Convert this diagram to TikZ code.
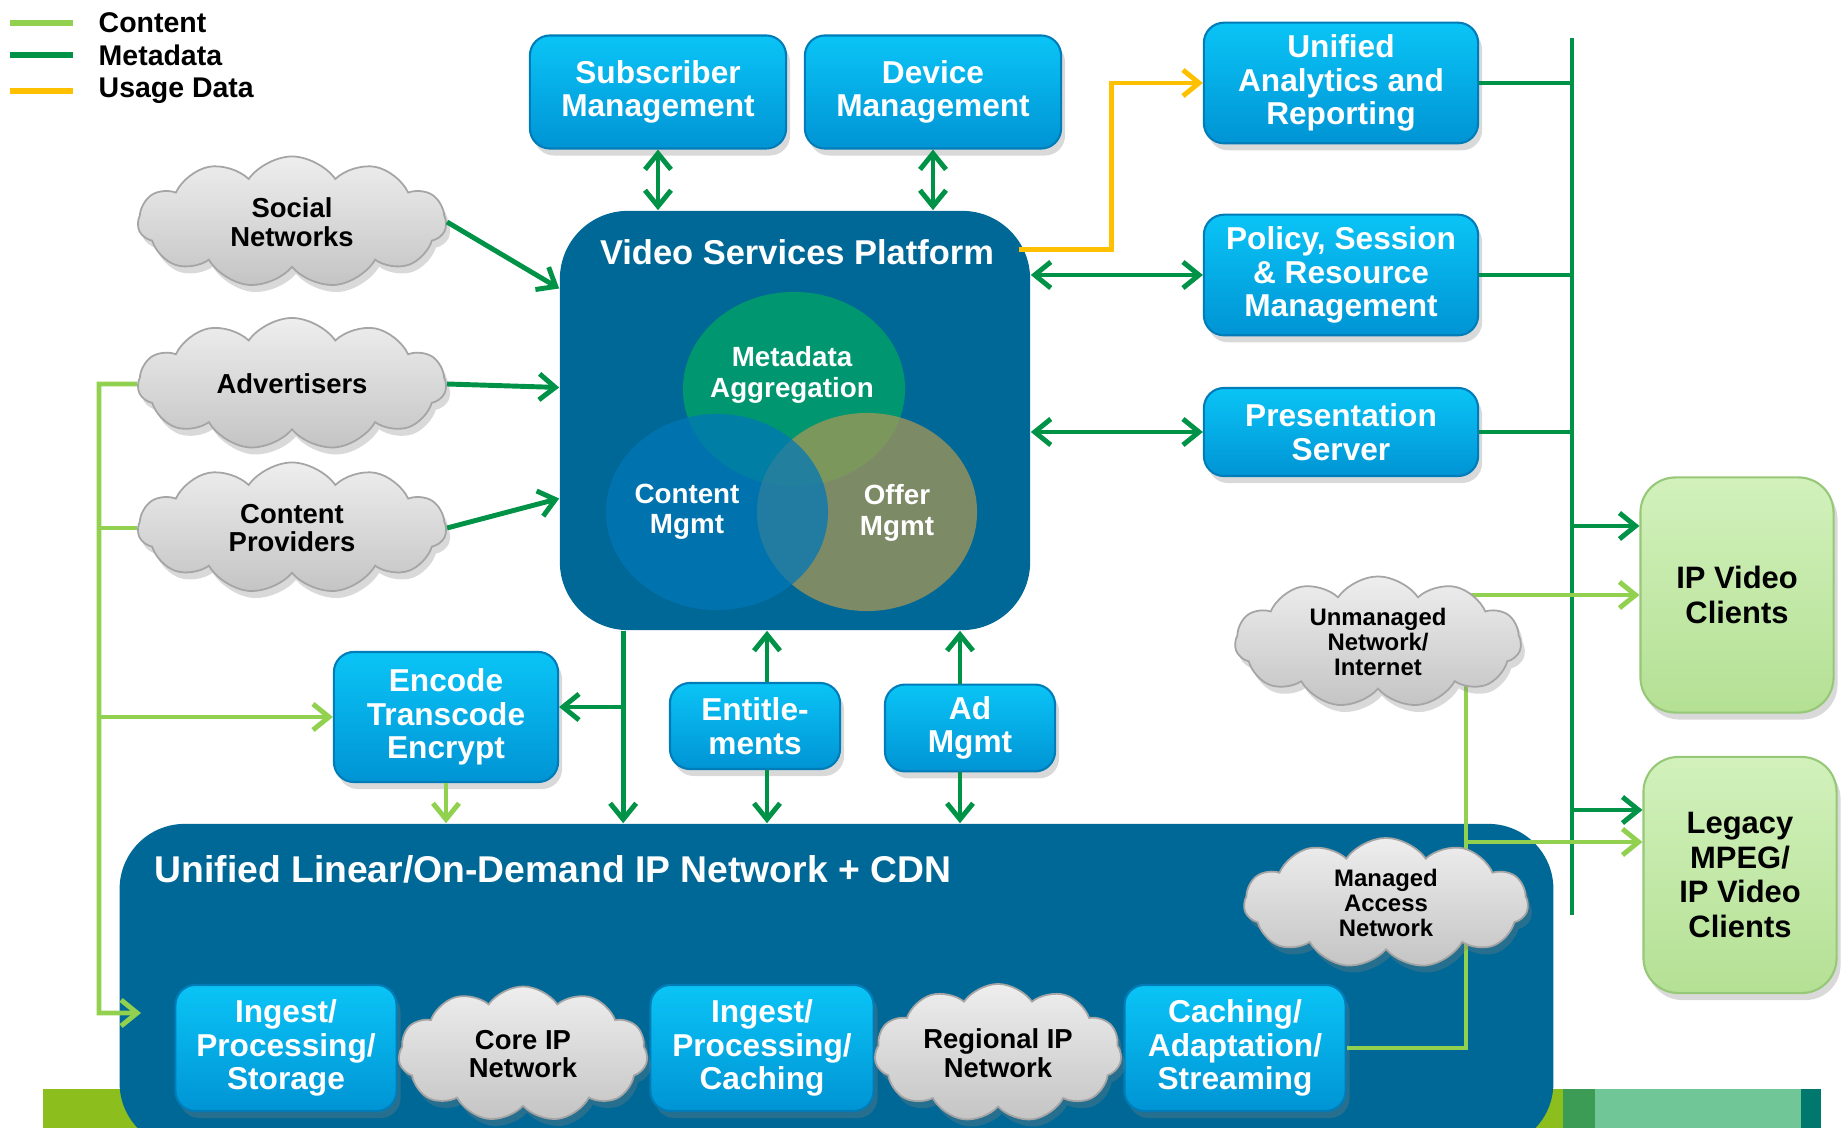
\documentclass[tikz,border=0pt]{standalone}
\usepackage{fontspec}
\setmainfont{Liberation Sans}
\usetikzlibrary{shapes.symbols,arrows.meta,calc,shadows}
\definecolor{contgreen}{RGB}{146,208,80}
\definecolor{metagreen}{RGB}{0,146,70}
\definecolor{usageyel}{RGB}{255,192,0}
\definecolor{vspblue}{RGB}{0,104,150}
\definecolor{boxtop}{RGB}{10,196,246}
\definecolor{boxbot}{RGB}{0,148,212}
\definecolor{boxline}{RGB}{0,125,185}
\definecolor{cloudtop}{RGB}{238,238,238}
\definecolor{cloudbot}{RGB}{196,196,196}
\definecolor{cloudline}{RGB}{165,165,165}
\definecolor{clienttop}{RGB}{210,241,188}
\definecolor{clientbot}{RGB}{180,224,148}
\definecolor{clientline}{RGB}{150,200,120}
\definecolor{metaoval}{RGB}{0,150,112}
\definecolor{contoval}{RGB}{0,118,183}
\definecolor{offeroval}{RGB}{172,152,84}
\definecolor{barlime}{RGB}{140,190,30}
\definecolor{bardark}{RGB}{60,155,85}
\definecolor{barmint}{RGB}{112,198,150}
\definecolor{barteal}{RGB}{0,120,110}

\begin{document}
\begin{tikzpicture}[x=0.01cm, y=-0.01cm,
    >={Straight Barb[length=1.6mm,width=2.6mm]},
    box/.style={draw=boxline, line width=0.6pt, rounded corners=2mm, top color=boxtop, bottom color=boxbot,
        text=white, align=center, font=\bfseries\fontsize{9}{9.6}\selectfont,
        drop shadow={shadow xshift=0.4mm, shadow yshift=-0.7mm, opacity=0.3}},
    cloudy/.style={cloud, cloud puffs=11, cloud puff arc=110, cloud ignores aspect, draw=cloudline, line width=0.5pt,
        top color=cloudtop, bottom color=cloudbot, inner sep=0pt, align=center,
        font=\bfseries\fontsize{7.8}{8.2}\selectfont,
        drop shadow={shadow xshift=0.4mm, shadow yshift=-0.7mm, opacity=0.3}},
    smallcloud/.style={cloudy, font=\bfseries\fontsize{6.8}{7.2}\selectfont},
    client/.style={draw=clientline, line width=0.6pt, rounded corners=3.5mm, top color=clienttop, bottom color=clientbot,
        align=center, font=\bfseries\fontsize{8.8}{9.8}\selectfont, minimum width=1.93cm,
        drop shadow={shadow xshift=0.4mm, shadow yshift=-0.7mm, opacity=0.3}},
    panel/.style={fill=vspblue, rounded corners=6.5mm},
    title/.style={text=white, font=\bfseries\fontsize{9.8}{11}\selectfont},
    venn/.style={text=white, align=center, font=\bfseries\fontsize{7.9}{8.6}\selectfont},
    lbl/.style={anchor=west, inner sep=0pt, font=\bfseries\fontsize{8.1}{9}\selectfont},
    meta/.style={draw=metagreen, line width=1.4pt},
    cont/.style={draw=contgreen, line width=1.4pt},
    usage/.style={draw=usageyel, line width=1.4pt}
]
\useasboundingbox (0,0) rectangle (1842,1128);

\fill[barlime] (43,1089) rectangle (1563,1128);
\fill[bardark] (1563,1089) rectangle (1595,1128);
\fill[barmint] (1595,1089) rectangle (1801,1128);
\fill[barteal] (1801,1089) rectangle (1821,1128);

\node[panel, minimum width=14.33cm, minimum height=3.24cm] (uln) at (836.5,986) {};
\node[title, anchor=west, inner sep=0pt, font=\bfseries\fontsize{10.6}{12}\selectfont] (ulnt) at (154,869) {Unified Linear/On-Demand IP Network + CDN};
\node[panel, rounded corners=6.8mm, minimum width=4.70cm, minimum height=4.19cm] (vsp) at (795,420.5) {};
\node[title] (vspt) at (797,252) {Video Services Platform};

\fill[metaoval] (794,389) ellipse [x radius=1.11cm, y radius=0.97cm];
\fill[offeroval, fill opacity=0.72] (867,512) ellipse [x radius=1.10cm, y radius=0.99cm];
\fill[contoval, fill opacity=0.72] (717,512) ellipse [x radius=1.11cm, y radius=0.98cm];
\node[venn] (mda) at (792,375) {Metadata\\Aggregation};
\node[venn] (cmg) at (687,512) {Content\\Mgmt};
\node[venn] (omg) at (897,513) {Offer\\Mgmt};

\node[box, minimum width=2.56cm, minimum height=1.13cm] (sub) at (658,92) {Subscriber\\Management};
\node[box, minimum width=2.56cm, minimum height=1.13cm] (dev) at (933,92) {Device\\Management};
\node[box, minimum width=2.74cm, minimum height=1.14cm] (ana) at (1341,83) {Unified\\Analytics and\\Reporting};
\node[box, minimum width=2.74cm, minimum height=1.14cm] (pol) at (1341,275) {Policy, Session\\\& Resource\\Management};
\node[box, minimum width=2.74cm, minimum height=0.88cm] (pres) at (1341,432) {Presentation\\Server};
\node[box, minimum width=2.24cm, minimum height=1.30cm] (enc) at (446,717) {Encode\\Transcode\\Encrypt};
\node[box, minimum width=1.70cm, minimum height=0.86cm] (ent) at (755,726) {Entitle-\\ments};
\node[box, minimum width=1.70cm, minimum height=0.85cm] (ad) at (970,728) {Ad\\Mgmt};
\node[box, minimum width=2.21cm, minimum height=1.26cm] (ips) at (286,1048) {Ingest/\\Processing/\\Storage};
\node[box, minimum width=2.23cm, minimum height=1.26cm] (ipc) at (762,1048) {Ingest/\\Processing/\\Caching};
\node[box, minimum width=2.21cm, minimum height=1.26cm] (cas) at (1235,1048) {Caching/\\Adaptation/\\Streaming};

\node[client, minimum height=2.35cm] (ipv) at (1737,595) {IP Video\\Clients};
\node[client, minimum height=2.36cm] (leg) at (1740,875) {Legacy\\MPEG/\\IP Video\\Clients};

\node[cloudy, minimum width=3.08cm, minimum height=1.31cm] (soc) at (292,222) {Social\\Networks};
\node[cloudy, minimum width=3.08cm, minimum height=1.32cm] (adv) at (292,384) {Advertisers};
\node[cloudy, minimum width=3.08cm, minimum height=1.31cm] (cpr) at (292,528) {Content\\Providers};
\node[cloudy, minimum width=2.49cm, minimum height=1.35cm] (core) at (523,1054) {Core IP\\Network};
\node[cloudy, minimum width=2.47cm, minimum height=1.38cm] (reg) at (998,1053) {Regional IP\\Network};

\draw[meta,->] (soc.east) -- ($(vsp.west)+(0,-132)$);
\draw[meta,->] (adv.east) -- ($(vsp.west)+(0,-33)$);
\draw[meta,->] (cpr.east) -- ($(vsp.west)+(0,78)$);
\draw[meta,<->] (sub.south) -- (sub.south |- vsp.north);
\draw[meta,<->] (dev.south) -- (dev.south |- vsp.north);
\draw[meta,<->] (vsp.east |- pol.west) -- (pol.west);
\draw[meta,<->] (vsp.east |- pres.west) -- (pres.west);

\coordinate (bustop) at (1572,38);
\coordinate (busbot) at (1572,915);
\draw[meta] (bustop) -- (busbot);
\draw[meta] (ana.east) -- (ana.east -| bustop);
\draw[meta] (pol.east) -- (pol.east -| bustop);
\draw[meta] (pres.east) -- (pres.east -| bustop);
\draw[meta,->] ($(ipv.west -| bustop)+(0,-69)$) -- ($(ipv.west)+(0,-69)$);
\draw[meta,->] ($(leg.west -| bustop)+(0,-65)$) -- ($(leg.west)+(0,-65)$);

\coordinate (vspout) at ($(vsp.south west)+(64,0)$);
\draw[meta,->] (vspout) -- (vspout |- uln.north);
\draw[meta,->] ($(vspout |- enc.east)+(0,-10)$) -- ($(enc.east)+(0,-10)$);
\coordinate (entx) at ($(ent.center)+(12,0)$);
\draw[meta,->] (entx |- ent.north) -- (entx |- vsp.south);
\draw[meta,->] (entx |- ent.south) -- (entx |- uln.north);
\coordinate (adx) at ($(ad.center)+(-10,0)$);
\draw[meta,->] (adx |- ad.north) -- (adx |- vsp.south);
\draw[meta,->] (adx |- ad.south) -- (adx |- uln.north);

\coordinate (lbus) at (99,384);
\coordinate (lin) at (141,1013);
\draw[cont,->] (adv.west) -- (lbus) |- (lin);
\draw[cont] (cpr.west) -- (cpr.west -| lbus);
\draw[cont,->] (enc.west -| lbus) -- (enc.west);
\draw[cont,->] (enc.south) -- (enc.south |- uln.north);
\coordinate (cbus) at (1466,595);
\draw[cont,->] (cas.east) -| (cbus) -- (ipv.west);
\draw[cont,->] ($(cbus |- leg.west)+(0,-33)$) -- ($(leg.west)+(0,-33)$);

\coordinate (vspu) at ($(vsp.north east)+(-12,39)$);
\draw[usage,->] (vspu) -- ++(93,0) |- (ana.west);

\node[smallcloud, minimum width=2.86cm, minimum height=1.31cm] (unm) at (1378,642) {Unmanaged\\Network/\\Internet};
\node[smallcloud, minimum width=2.84cm, minimum height=1.30cm] (man) at (1386,903) {Managed\\Access\\Network};

\draw[cont, line width=1.7pt] (10,23) -- (73,23);
\draw[meta, line width=1.7pt] (10,55) -- (73,55);
\draw[usage, line width=1.7pt] (10,91) -- (73,91);
\node[lbl] (lgc) at (98,23) {Content};
\node[lbl] (lgm) at (98,55) {Metadata};
\node[lbl] (lgu) at (98,91) {Usage Data};
\end{tikzpicture}
\end{document}
